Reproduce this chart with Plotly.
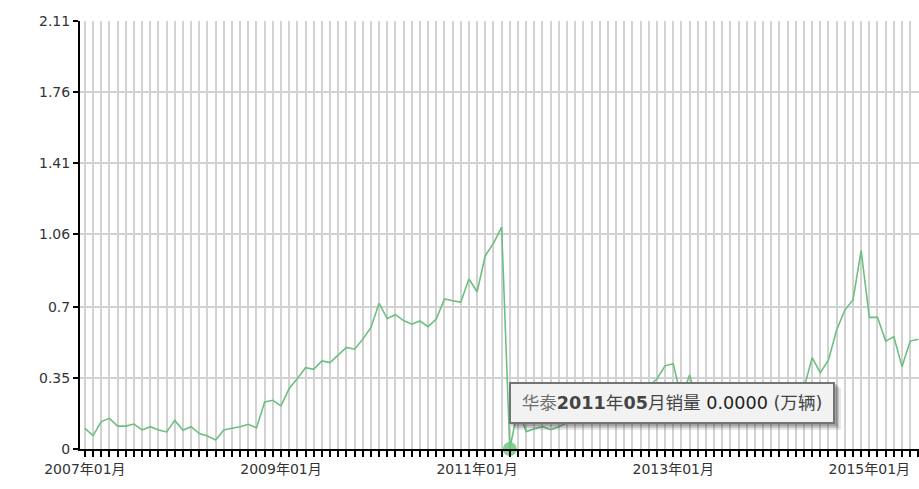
import plotly.graph_objects as go

# Monthly categories 2007-01 .. 2015-07
months = [f"{2007 + i // 12}年{i % 12 + 1:02d}月" for i in range(103)]

# 华泰 monthly sales (万辆) (hidden parts estimated)
sales = [
    0.102, 0.066, 0.135, 0.151, 0.113, 0.113, 0.123, 0.094, 0.110, 0.094, 0.084, 0.141,
    0.092, 0.110, 0.076, 0.064, 0.044, 0.094, 0.102, 0.110, 0.122, 0.104, 0.232, 0.240,
    0.213, 0.298, 0.347, 0.401, 0.393, 0.434, 0.426, 0.463, 0.501, 0.492, 0.541, 0.598,
    0.718, 0.643, 0.662, 0.633, 0.615, 0.631, 0.603, 0.641, 0.740, 0.731, 0.724, 0.838,
    0.775, 0.953, 1.014, 1.094, 0.000, 0.200, 0.085, 0.100, 0.110, 0.095, 0.110, 0.130,
    0.150, 0.160, 0.180, 0.170, 0.200, 0.220, 0.210, 0.250, 0.280, 0.310, 0.345, 0.410,
    0.420, 0.250, 0.365, 0.220, 0.200, 0.180, 0.190, 0.170, 0.160, 0.180, 0.200, 0.190,
    0.210, 0.230, 0.220, 0.260, 0.300, 0.450, 0.376, 0.439, 0.587, 0.685, 0.735, 0.978,
    0.649, 0.649, 0.532, 0.554, 0.406, 0.532, 0.541,
]

y_ticks = [0, 0.35, 0.7, 1.06, 1.41, 1.76, 2.11]
y_ticktext = ["0", "0.35", "0.7", "1.06", "1.41", "1.76", "2.11"]
label_every = 24
x_ticktext = [m if i % label_every == 0 else "" for i, m in enumerate(months)]

brand = "华泰"
hover_index = 52
unit = "万辆"

FONT = "DejaVu Sans, Verdana, Noto Sans CJK SC, sans-serif"
LINE = "#6dbf80"

fig = go.Figure()
fig.add_trace(go.Scatter(
    x=months, y=sales, mode="lines",
    line=dict(color=LINE, width=1.6),
    hoverinfo="skip", showlegend=False,
))
fig.add_trace(go.Scatter(
    x=[months[hover_index]], y=[sales[hover_index]], mode="markers",
    marker=dict(size=14, color="rgba(110,200,130,0.85)", line=dict(width=0)),
    cliponaxis=False, hoverinfo="skip", showlegend=False,
))

W, H = 919, 489
ml, mr, mt, mb = 80, 0, 21, 40
pw, ph = W - ml - mr, H - mt - mb


def px(x):  # window pixel -> paper x
    return (x - ml) / pw


def py(y):  # window pixel -> paper y
    return (H - mb - y) / ph


# tooltip shadow
for off, alpha in [(6, 0.12), (4, 0.2), (2, 0.25)]:
    fig.add_shape(type="rect", xref="paper", yref="paper",
                  x0=px(509 + off), x1=px(835 + off), y0=py(424 + off), y1=py(382 + off),
                  line=dict(width=0), fillcolor=f"rgba(60,60,60,{alpha})", layer="above")

yy, mm = months[hover_index][:4], months[hover_index][5:7]
tip = (f"<span style='color:#707070'>{brand}</span><b>{yy}</b>年<b>{mm}</b>月销量 "
       f"<span style='color:#222'>{sales[hover_index]:.4f}</span> ({unit})")
fig.add_annotation(
    xref="paper", yref="paper", x=px(509), y=py(382), xanchor="left", yanchor="top",
    text=tip, showarrow=False, align="center",
    width=318, height=34, borderpad=2, borderwidth=2,
    bordercolor="#747474", bgcolor="#f2f2f2",
    font=dict(family=FONT, size=17.6, color="#444"),
)

fig.update_layout(
    width=W, height=H,
    margin=dict(l=ml, r=mr, t=mt, b=mb, autoexpand=False),
    paper_bgcolor="white", plot_bgcolor="white",
    font=dict(family=FONT, size=14, color="#333"),
)
fig.update_xaxes(
    type="category", range=[-0.6, 102.08],
    tickmode="array", tickvals=months, ticktext=x_ticktext, tickangle=0,
    showgrid=True, gridcolor="#d2d2d2", gridwidth=2,
    showline=True, linecolor="black", linewidth=2,
    ticks="outside", ticklen=6, tickwidth=2, tickcolor="black",
    zeroline=False, automargin=False,
)
fig.update_yaxes(
    range=[0, 2.11], tickmode="array", tickvals=y_ticks, ticktext=y_ticktext,
    showgrid=True, gridcolor="#d2d2d2", gridwidth=2,
    showline=True, linecolor="black", linewidth=2,
    ticks="outside", ticklen=5, tickwidth=2, tickcolor="black",
    zeroline=False, automargin=False,
)

fig.write_html(
    "out.html",
    config={"displayModeBar": False},
    post_script="document.body.style.margin='0';document.body.style.overflow='hidden';",
)
